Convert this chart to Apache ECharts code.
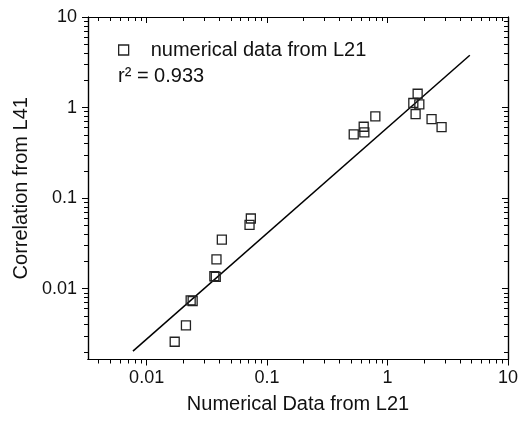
<!DOCTYPE html>
<html>
<head>
<meta charset="utf-8">
<script src="https://cdn.jsdelivr.net/npm/echarts@6/dist/echarts.min.js"></script>
<style>html,body{margin:0;padding:0;background:#fff}#c{width:521px;height:422px}</style>
</head>
<body>
<div id="c"></div>
<script>
// Numerical data from L21 (x) vs correlation from L41 (y)
var xValues = [0.0171, 0.0212, 0.0232, 0.0241, 0.0365, 0.0375, 0.038, 0.0421, 0.0733, 0.0715,
               0.524, 0.634, 0.642, 0.792, 1.778, 1.637, 1.836, 1.71, 2.32, 2.81];
var yValues = [0.00259, 0.00393, 0.00743, 0.0073, 0.0137, 0.0135, 0.0211, 0.0348, 0.0595, 0.0505,
               0.506, 0.614, 0.532, 0.800, 1.42, 1.122, 1.085, 0.848, 0.746, 0.608];
// fitted power-law line end points
var fitX = [0.0077, 4.82];
var fitY = [0.00204, 3.78];
var xMajorTicks = [0.01, 0.1, 1, 10];
var yMajorTicks = [0.01, 0.1, 1, 10];
var xRange = [0.00326, 10];
var yRange = [0.00165, 10];
var seriesName = 'numerical data from L21';
var r2Text = 'r\u00B2 = 0.933';
var xName = 'Numerical Data from L21';
var yName = 'Correlation from L41';

function minorTicks(lo, hi) {
  var out = [];
  for (var e = -4; e <= 2; e++) {
    for (var m = 2; m <= 9; m++) {
      var v = +(m * Math.pow(10, e)).toPrecision(6);
      if (v > lo && v < hi) out.push(v);
    }
  }
  return out;
}
var xMinor = minorTicks(xRange[0], xRange[1]);
var yMinor = minorTicks(yRange[0], yRange[1]);

var FONT = 'Liberation Sans, Arial, sans-serif';
var INK = '#111';

function mkX(pos, ticks, len, inside, opts) {
  var a = {
    type: 'log', position: pos, min: xRange[0], max: xRange[1], logBase: 10,
    axisLine: {show: true, onZero: false, lineStyle: {color: '#000', width: 1.2}},
    axisTick: {show: true, inside: inside, length: len, customValues: ticks, lineStyle: {color: '#000', width: 1}},
    axisLabel: {show: false},
    splitLine: {show: false}
  };
  for (var k in opts) a[k] = opts[k];
  return a;
}
function mkY(pos, ticks, len, inside, opts) {
  var a = {
    type: 'log', position: pos, min: yRange[0], max: yRange[1], logBase: 10,
    axisLine: {show: true, onZero: false, lineStyle: {color: '#000', width: 1.2}},
    axisTick: {show: true, inside: inside, length: len, customValues: ticks, lineStyle: {color: '#000', width: 1}},
    axisLabel: {show: false},
    splitLine: {show: false}
  };
  for (var k in opts) a[k] = opts[k];
  return a;
}

var scatterData = xValues.map(function (x, i) { return [x, yValues[i]]; });
var fitData = fitX.map(function (x, i) { return [x, fitY[i]]; });

var chart = echarts.init(document.getElementById('c'), null, {renderer: 'canvas'});
chart.setOption({
  animation: false,
  backgroundColor: '#fff',
  grid: {left: 88, right: 12, top: 17, bottom: 62.5, containLabel: false},
  xAxis: [
    mkX('bottom', xMajorTicks, 6, false, {
      name: xName, nameLocation: 'middle', nameGap: 35,
      nameTextStyle: {fontFamily: FONT, fontSize: 20, color: INK},
      axisLabel: {show: true, customValues: xMajorTicks, margin: 10, fontFamily: FONT, fontSize: 18, color: INK,
                  formatter: function (v) { return String(+v.toPrecision(6)); }}
    }),
    mkX('bottom', xMinor, 4, false, {}),
    mkX('top', xMajorTicks, 6, true, {}),
    mkX('top', xMinor, 4, true, {})
  ],
  yAxis: [
    mkY('left', yMajorTicks, 6, false, {
      name: yName, nameLocation: 'middle', nameGap: 53, nameRotate: 90,
      nameTextStyle: {fontFamily: FONT, fontSize: 20, color: INK},
      axisLabel: {show: true, customValues: yMajorTicks, margin: 11, fontFamily: FONT, fontSize: 18, color: INK,
                  formatter: function (v) { return String(+v.toPrecision(6)); }}
    }),
    mkY('left', yMinor, 4, false, {}),
    mkY('right', yMajorTicks, 6, true, {}),
    mkY('right', yMinor, 4, true, {})
  ],
  legend: {
    show: true, left: 113, top: 35, orient: 'vertical',
    data: [{name: seriesName, icon: 'rect'}],
    itemWidth: 10, itemHeight: 10,
    itemStyle: {color: 'rgba(0,0,0,0)', borderColor: '#222', borderWidth: 1.3},
    textStyle: {fontFamily: FONT, fontSize: 20, color: INK, padding: [0, 0, 0, 17]}
  },
  graphic: [{
    type: 'text', left: 118, top: 66,
    style: {text: r2Text, font: '20px ' + FONT, fill: INK}
  }],
  series: [
    {
      name: seriesName, type: 'scatter', xAxisIndex: 0, yAxisIndex: 0,
      symbol: 'rect', symbolSize: 9,
      itemStyle: {color: 'rgba(0,0,0,0)', borderColor: '#222', borderWidth: 1.3, opacity: 1},
      data: scatterData, z: 3
    },
    {
      name: 'fit', type: 'line', xAxisIndex: 0, yAxisIndex: 0,
      symbol: 'none', lineStyle: {color: '#000', width: 1.5},
      data: fitData, z: 2
    }
  ]
});
</script>
</body>
</html>
